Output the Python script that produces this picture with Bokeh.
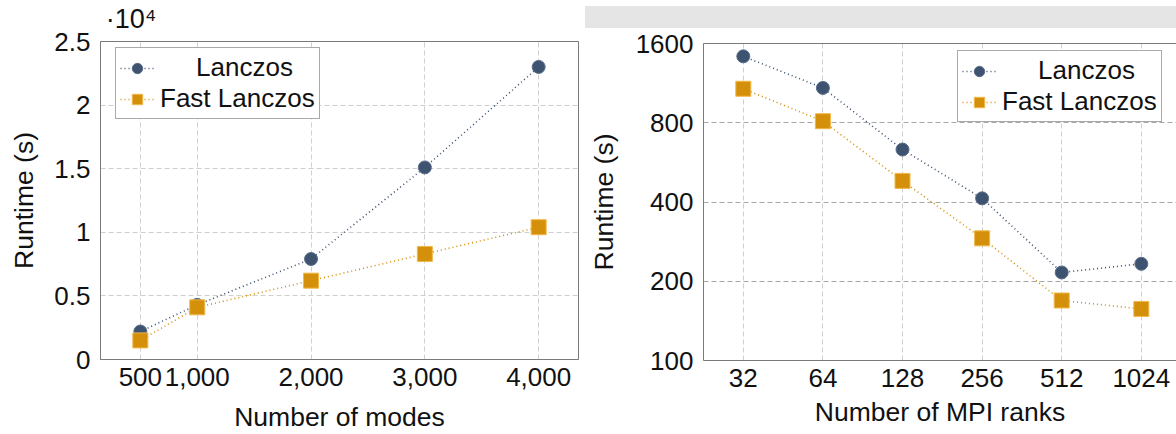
from bokeh.plotting import figure
from bokeh.models import (FixedTicker, BasicTickFormatter, Legend, LegendItem,
                          Range1d, Div, LogAxis, LinearAxis)
from bokeh.layouts import row, column
from bokeh.embed import file_html
from bokeh.resources import INLINE

# ---------------- data ----------------
modes = [500, 1000, 2000, 3000, 4000]
modes_lanczos = [2200, 4300, 7900, 15100, 23000]
modes_fast = [1500, 4100, 6200, 8300, 10400]

ranks = [32, 64, 128, 256, 512, 1024]
ranks_lanczos = [1430, 1085, 633, 413, 216, 233]
ranks_fast = [1077, 811, 481, 291, 169, 157]

left_yticks = [0, 5000, 10000, 15000, 20000, 25000]
left_ylabels = ["0", "0.5", "1", "1.5", "2", "2.5"]
left_xlabels = ["500", "1,000", "2,000", "3,000", "4,000"]
right_yticks = [100, 200, 400, 800, 1600]
y_multiplier_text = "\u00b710\u2074"

names = ["Lanczos", "Fast Lanczos"]

# ---------------- style ----------------
FONT = "Liberation Sans"
C_L = "#3e5370"
C_F = "#d4900a"
C_F_EDGE = "#f0b848"
C_L_EDGE = "#5a6e8a"
AXIS_C = "#7a7a7a"
GRID_LIGHT = "#cfcfcf"
GRID_DARK = "#a6a6a6"
MULT_POS = 418  # horizontal anchor (x-units) of the "·10⁴" multiplier label


def style_axes(p):
    for ax in p.axis:
        ax.axis_line_color = AXIS_C
        ax.major_tick_line_color = None
        ax.minor_tick_line_color = None
        ax.major_label_text_font = FONT
        ax.major_label_text_font_size = "26px"
        ax.major_label_text_color = "#111111"
        ax.axis_label_text_font = FONT
        ax.axis_label_text_font_size = "26.5px"
        ax.axis_label_text_font_style = "normal"
        ax.axis_label_text_color = "#111111"
        ax.major_tick_out = 0
        ax.major_tick_in = 0


def add_series(p, x, y1, y2):
    l1 = p.line(x, y1, line_color=C_L, line_width=1.6, line_dash="1 3")
    s1 = p.scatter(x, y1, marker="circle", size=13, fill_color=C_L, line_color=C_L_EDGE, line_width=1)
    l2 = p.line(x, y2, line_color=C_F, line_width=1.6, line_dash="1 3")
    s2 = p.scatter(x, y2, marker="square", size=15, fill_color=C_F, line_color=C_F_EDGE, line_width=1)
    return [l1, s1], [l2, s2]


def make_legend(r1, r2, loc):
    leg = Legend(items=[LegendItem(label="\u00a0\u00a0\u00a0\u00a0\u00a0" + names[0], renderers=r1),
                        LegendItem(label=names[1], renderers=r2)],
                 location=loc)
    leg.glyph_width = 34
    leg.glyph_height = 26
    leg.label_height = 26
    leg.label_standoff = 6
    leg.padding = 4
    leg.spacing = 0
    leg.margin = 0
    leg.border_line_color = "#555555"
    leg.border_line_width = 1
    leg.background_fill_alpha = 1
    leg.label_text_font = FONT
    leg.label_text_font_size = "26px"
    leg.label_text_color = "#111111"
    return leg


# ---------------- left plot ----------------
p1 = figure(width=585, height=434, output_backend="svg", toolbar_location=None,
            x_range=Range1d(150, 4350), y_range=Range1d(0, 25000),
            min_border_left=100, min_border_right=7, min_border_top=40, min_border_bottom=75)
p1.outline_line_color = AXIS_C
p1.background_fill_color = "white"
p1.border_fill_color = "white"
r1, r2 = add_series(p1, modes, modes_lanczos, modes_fast)
p1.xaxis.ticker = FixedTicker(ticks=modes)
p1.xaxis.major_label_overrides = {m: s for m, s in zip(modes, left_xlabels)}
p1.yaxis.ticker = FixedTicker(ticks=left_yticks)
p1.yaxis.major_label_overrides = {t: s for t, s in zip(left_yticks, left_ylabels)}
p1.xaxis.axis_label = "Number of modes"
p1.yaxis.axis_label = "Runtime (s)"
mult_axis = LinearAxis(ticker=FixedTicker(ticks=[MULT_POS]),
                       major_label_overrides={MULT_POS: y_multiplier_text})
p1.add_layout(mult_axis, "above")
style_axes(p1)
mult_axis.axis_line_color = None
mult_axis.major_label_text_font_size = "27px"
mult_axis.major_label_standoff = -9
p1.yaxis.major_label_standoff = 10
p1.xaxis.major_label_standoff = 8
p1.yaxis.axis_label_standoff = 12
p1.xaxis.axis_label_standoff = 13
for g in (p1.xgrid, p1.ygrid):
    g.grid_line_color = GRID_LIGHT
    g.grid_line_dash = "5 3"
    g.grid_line_width = 1
p1.xgrid.ticker = FixedTicker(ticks=modes)
p1.ygrid.ticker = FixedTicker(ticks=left_yticks)
p1.add_layout(make_legend(r1, r2, (15, 240)))

# ---------------- right plot ----------------
p2 = figure(width=591, height=406, output_backend="svg", toolbar_location=None,
            x_axis_type="log", y_axis_type="log",
            x_range=Range1d(2 ** 4.5, 2 ** 10.442), y_range=Range1d(100, 1600),
            min_border_left=118, min_border_right=0, min_border_top=15, min_border_bottom=74)
p2.outline_line_color = None
p2.background_fill_color = "white"
p2.border_fill_color = "white"
q1, q2 = add_series(p2, ranks, ranks_lanczos, ranks_fast)
p2.xaxis.ticker = FixedTicker(ticks=ranks)
p2.xaxis.formatter = BasicTickFormatter()
p2.yaxis.ticker = FixedTicker(ticks=right_yticks)
p2.yaxis.formatter = BasicTickFormatter()
p2.xaxis.axis_label = "Number of MPI ranks"
p2.yaxis.axis_label = "Runtime (s)"
top_axis = LogAxis(ticker=FixedTicker(ticks=[]), major_label_text_font_size="0px",
                   axis_line_color=AXIS_C, major_tick_line_color=None, minor_tick_line_color=None)
p2.add_layout(top_axis, "above")
style_axes(p2)
top_axis.major_label_text_font_size = "0px"
p2.yaxis.major_label_standoff = 10
p2.xaxis.major_label_standoff = 8
p2.yaxis.axis_label_standoff = 14
p2.xaxis.axis_label_standoff = 7
p2.xgrid.grid_line_color = GRID_LIGHT
p2.ygrid.grid_line_color = GRID_DARK
for g in (p2.xgrid, p2.ygrid):
    g.grid_line_dash = "5 3"
    g.grid_line_width = 1
p2.xgrid.ticker = FixedTicker(ticks=ranks)
p2.ygrid.ticker = FixedTicker(ticks=right_yticks)
p2.add_layout(make_legend(q1, q2, (254, 238)))

bar = Div(width=591, height=22, margin=(6, 0, 0, 0), styles={"background-color": "#e5e5e5"})

layout = row(p1, column(bar, p2, spacing=0), spacing=0)

open("out.html", "w").write(file_html(layout, INLINE))
